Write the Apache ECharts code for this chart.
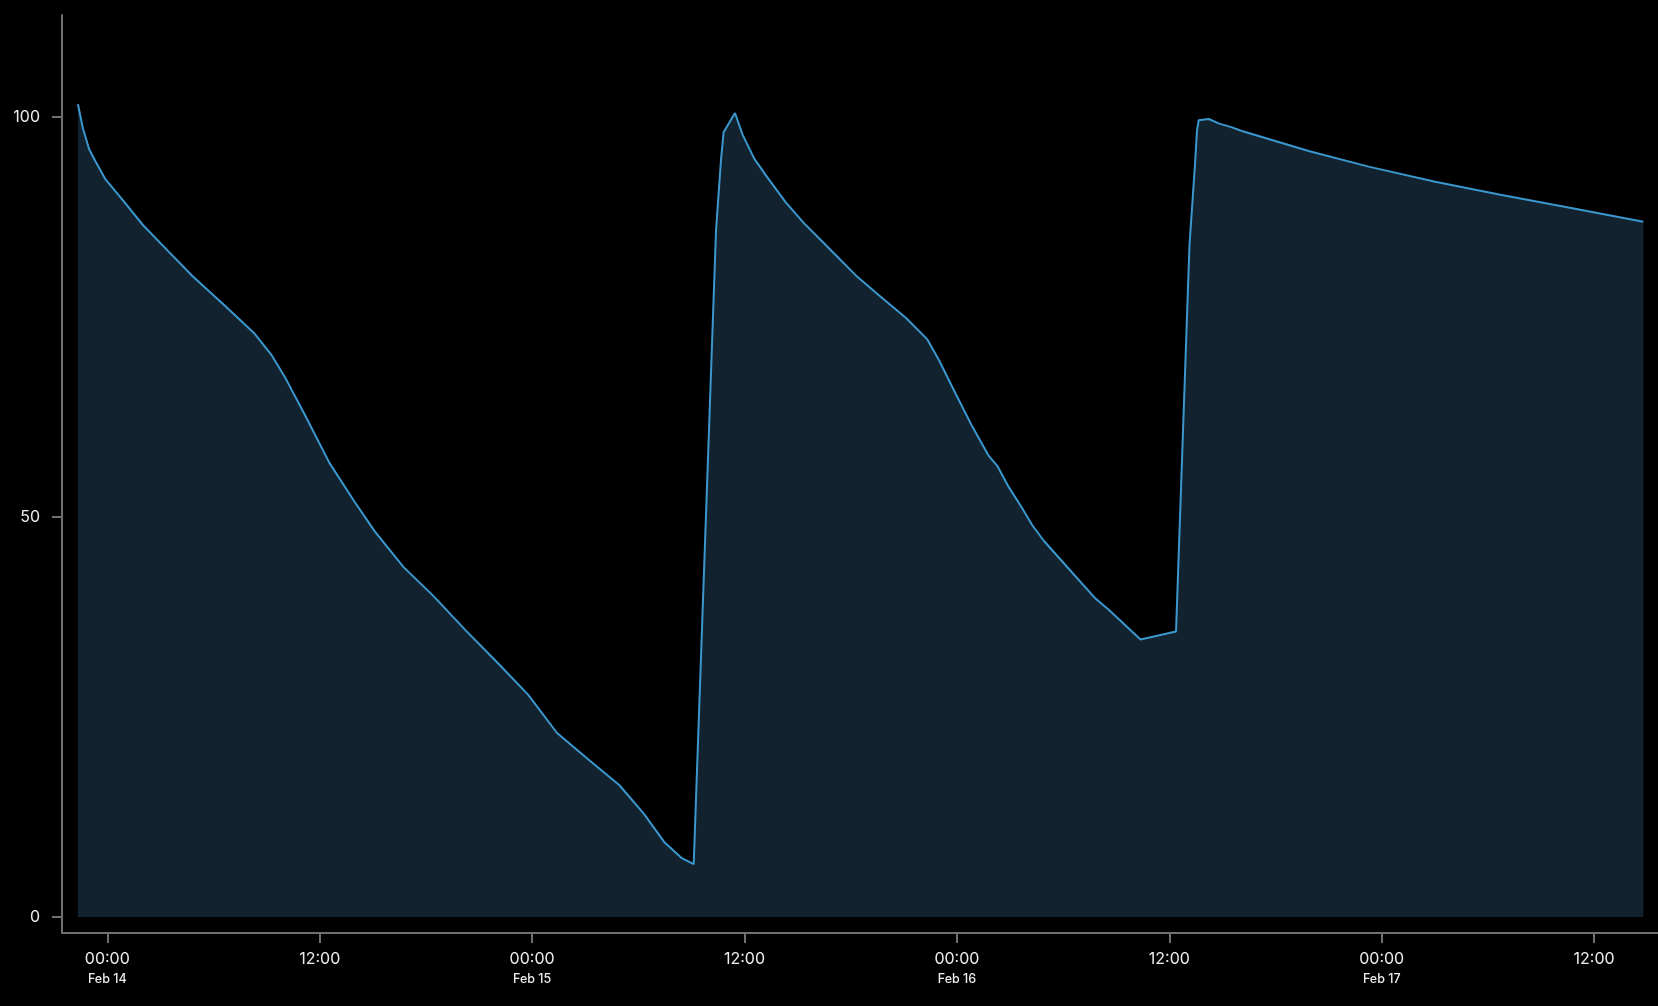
<!DOCTYPE html>
<html>
<head>
<meta charset="utf-8">
<script src="https://cdn.jsdelivr.net/npm/echarts@6/dist/echarts.min.js"></script>
<style>
html,body{margin:0;padding:0;background:#000;}
#chart{width:1658px;height:1006px;}
</style>
</head>
<body>
<div id="chart"></div>
<script>
// Hours relative to Feb 14 00:00
const hours = [
  -1.66, -1.38, -1.03, -0.68, -0.10, 0.84, 2.01, 3.41, 4.82, 6.69,
  8.33, 9.26, 10.08, 11.13, 12.54, 13.94, 15.11, 16.75, 18.39, 20.26,
  22.13, 23.77, 25.41, 27.28, 28.92, 30.32, 31.49, 32.43, 33.13,
  34.39, 34.67, 34.82, 35.46, 35.89, 36.55, 37.21, 38.34, 39.37, 40.32,
  41.44, 42.29, 43.61, 45.11, 46.33, 46.99, 47.93, 48.87, 49.81, 50.28,
  50.94, 51.69, 52.25, 52.92, 54.33, 55.83, 56.58, 58.37, 60.38,
  61.14, 61.45, 61.56, 61.66, 62.23, 62.79, 63.54, 64.10, 65.61, 67.87,
  71.26, 75.02, 78.78, 82.55, 86.78
];
const values = [
  101.6, 98.6, 96.0, 94.5, 92.2, 89.7, 86.5, 83.3, 80.1, 76.3,
  72.9, 70.3, 67.3, 62.9, 56.8, 52.0, 48.2, 43.7, 40.2, 35.8,
  31.6, 27.8, 23.0, 19.5, 16.5, 12.9, 9.3, 7.4, 6.6,
  85.8, 94.6, 98.1, 100.5, 97.8, 94.8, 92.7, 89.3, 86.7, 84.6,
  82.1, 80.2, 77.7, 74.9, 72.2, 69.6, 65.4, 61.3, 57.6, 56.4,
  53.7, 51.1, 49.0, 47.0, 43.5, 39.8, 38.4, 34.7, 35.7,
  84.0, 94.0, 98.2, 99.6, 99.75, 99.2, 98.7, 98.25, 97.25, 95.75,
  93.8, 91.9, 90.25, 88.7, 86.9
];
const tickHours = [0, 12, 24, 36, 48, 60, 72, 84];
const tickTimes = ['00:00', '12:00', '00:00', '12:00', '00:00', '12:00', '00:00', '12:00'];
const tickDates = ['Feb 14', '', 'Feb 15', '', 'Feb 16', '', 'Feb 17', ''];
const yTicks = [0, 50, 100];

const data = hours.map((h, i) => [h, values[i]]);
const axisColor = '#6f6f6f';
const textColor = '#ececec';
const fontFamily = 'Inter, Lato, sans-serif';

const chart = echarts.init(document.getElementById('chart'), null, {renderer: 'canvas'});
chart.setOption({
  backgroundColor: '#000000',
  animation: false,
  grid: {left: 62, right: 0, top: 15, bottom: 73, containLabel: false},
  xAxis: {
    type: 'value',
    min: -2.56,
    max: 87.61,
    splitLine: {show: false},
    axisLine: {show: true, onZero: false, lineStyle: {color: axisColor, width: 2}},
    axisTick: {show: true, customValues: tickHours, length: 10, lineStyle: {color: axisColor, width: 2}},
    axisLabel: {
      customValues: tickHours,
      margin: 16,
      formatter: function (v) {
        const i = tickHours.indexOf(Math.round(v));
        if (i < 0) return '';
        return tickDates[i] ? '{t|' + tickTimes[i] + '}\n{d|' + tickDates[i] + '}' : '{t|' + tickTimes[i] + '}';
      },
      rich: {
        t: {fontSize: 16, lineHeight: 21, color: textColor, fontFamily: fontFamily},
        d: {fontSize: 12.5, lineHeight: 18, color: textColor, fontFamily: fontFamily, fontWeight: 500}
      }
    }
  },
  yAxis: {
    type: 'value',
    min: -2,
    max: 112.75,
    splitLine: {show: false},
    axisLine: {show: true, onZero: false, lineStyle: {color: axisColor, width: 2}},
    axisTick: {show: true, customValues: yTicks, length: 10, lineStyle: {color: axisColor, width: 2}},
    axisLabel: {
      customValues: yTicks,
      margin: 22,
      color: textColor,
      fontSize: 16,
      fontFamily: fontFamily
    }
  },
  series: [{
    type: 'line',
    data: data,
    showSymbol: false,
    symbol: 'none',
    lineStyle: {color: '#3b98cf', width: 2},
    areaStyle: {color: '#12222e', opacity: 1, origin: 0},
    z: 2
  }]
});
</script>
</body>
</html>
